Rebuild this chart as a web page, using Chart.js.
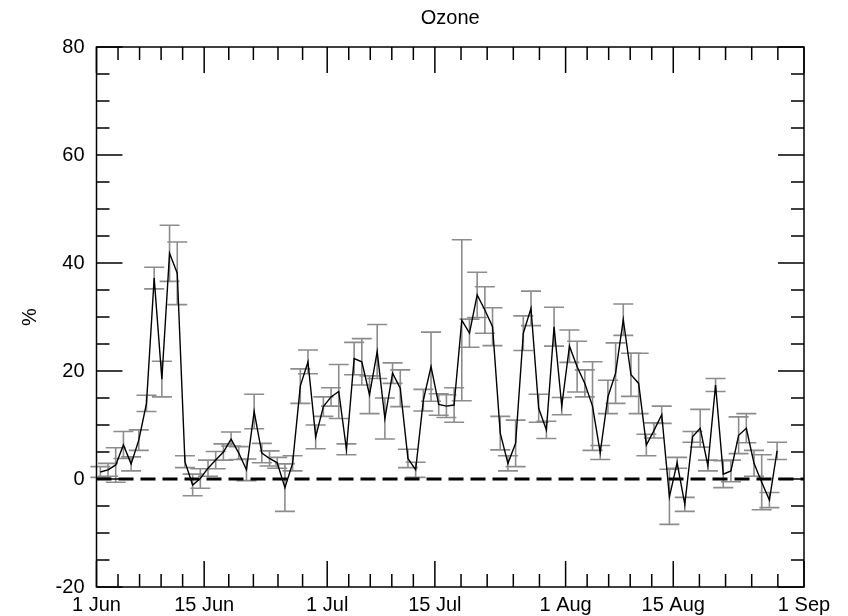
<!DOCTYPE html>
<html>
<head>
<meta charset="utf-8">
<title>Ozone</title>
<script src="https://cdn.jsdelivr.net/npm/chart.js@4/dist/chart.umd.min.js"></script>
<style>
  html, body { margin: 0; padding: 0; background: #fff; }
  #wrap { width: 848px; height: 616px; }
</style>
</head>
<body>
<div id="wrap"><canvas id="chart" width="848" height="616"></canvas></div>
<script>
// Daily ozone anomaly (%), 1 Jun .. 28 Aug, plotted at mid-day
const values = [
  1.3, 1.7, 2.6, 6.3, 2.8, 7.2, 14.0, 37.2, 18.5, 41.8,
  38.1, 3.2, -1.1, 0.1, 2.0, 3.5, 5.0, 7.4, 4.8, 1.7,
  12.5, 4.8, 3.8, 3.0, -1.6, 2.9, 17.2, 21.7, 7.8, 13.4,
  15.2, 16.2, 5.5, 22.3, 21.7, 15.6, 23.6, 11.2, 19.6, 16.8,
  3.8, 1.7, 14.6, 20.8, 13.8, 13.5, 13.7, 29.4, 27.0, 34.1,
  31.3, 28.2, 8.5, 2.9, 6.6, 27.0, 31.6, 13.1, 9.1, 28.2,
  13.5, 24.6, 20.8, 17.7, 13.5, 4.9, 15.2, 19.6, 29.5, 19.3,
  17.7, 6.3, 9.0, 11.9, -3.3, 3.0, -4.7, 7.8, 9.4, 2.5,
  17.4, 0.9, 1.5, 8.1, 9.4, 2.9, -0.6, -3.9, 5.2
];
// half-width of the error bar for each day
const errors = [
  1.0, 1.2, 3.2, 2.5, 1.3, 1.9, 1.5, 2.0, 3.3, 5.2,
  5.8, 1.1, 2.0, 1.8, 1.5, 1.6, 1.5, 1.3, 1.2, 2.0,
  3.2, 1.8, 1.4, 1.0, 4.4, 1.4, 3.2, 2.2, 2.2, 1.8,
  1.7, 5.0, 1.0, 3.0, 4.3, 3.5, 5.0, 3.8, 1.9, 3.4,
  1.7, 1.4, 2.0, 6.4, 2.0, 2.1, 3.2, 14.9, 2.6, 4.2,
  4.3, 3.5, 3.1, 1.4, 4.3, 3.2, 3.2, 2.6, 1.6, 3.6,
  1.6, 3.0, 4.7, 2.5, 8.2, 1.3, 3.1, 5.6, 2.9, 4.0,
  5.6, 2.0, 1.4, 1.6, 5.1, 1.0, 1.3, 1.0, 3.5, 1.0,
  1.2, 2.5, 2.0, 3.4, 2.7, 2.4, 5.1, 1.4, 1.6
];

// x axis: days since 1 Jun
const xTickDays = [0, 14, 30, 44, 61, 75, 92];
const xTickLabels = ['1 Jun', '15 Jun', '1 Jul', '15 Jul', '1 Aug', '15 Aug', '1 Sep'];
const yTickValues = [-20, 0, 20, 40, 60, 80];

const FONT = { family: 'Liberation Sans, Arial, Helvetica, sans-serif', size: 20 };

const points = values.map((v, i) => ({ x: i + 0.5, y: v }));

// gray error bars under the line
const errorBars = {
  id: 'errorBars',
  beforeDatasetsDraw(chart) {
    const { ctx, scales: { x, y } } = chart;
    ctx.save();
    ctx.strokeStyle = '#8c8c8c';
    ctx.lineWidth = 1.6;
    const cap = 10;
    points.forEach((p, i) => {
      const px = x.getPixelForValue(p.x);
      const top = y.getPixelForValue(p.y + errors[i]);
      const bot = y.getPixelForValue(p.y - errors[i]);
      ctx.beginPath();
      ctx.moveTo(px, top); ctx.lineTo(px, bot);
      ctx.moveTo(px - cap, top); ctx.lineTo(px + cap, top);
      ctx.moveTo(px - cap, bot); ctx.lineTo(px + cap, bot);
      ctx.stroke();
    });
    ctx.restore();
  }
};

// box frame with inward major/minor ticks on all four sides
const frame = {
  id: 'frame',
  afterDraw(chart) {
    const { ctx, chartArea: a, scales: { x, y } } = chart;
    const major = 26, minor = 13;
    ctx.save();
    ctx.strokeStyle = '#000';
    ctx.lineWidth = 1.5;
    ctx.strokeRect(a.left, a.top, a.right - a.left, a.bottom - a.top);
    ctx.beginPath();
    // x ticks
    xTickDays.forEach((d, k) => {
      const px = x.getPixelForValue(d);
      ctx.moveTo(px, a.bottom); ctx.lineTo(px, a.bottom - major);
      ctx.moveTo(px, a.top); ctx.lineTo(px, a.top + major);
      if (k < xTickDays.length - 1) {
        const next = xTickDays[k + 1];
        for (let m = 1; m < 5; m++) {
          const mx = x.getPixelForValue(d + (next - d) * m / 5);
          ctx.moveTo(mx, a.bottom); ctx.lineTo(mx, a.bottom - minor);
          ctx.moveTo(mx, a.top); ctx.lineTo(mx, a.top + minor);
        }
      }
    });
    // y ticks every 5, long ones every 20
    for (let v = -20; v <= 80; v += 5) {
      const py = y.getPixelForValue(v);
      const len = v % 20 === 0 ? major : minor;
      ctx.moveTo(a.left, py); ctx.lineTo(a.left + len, py);
      ctx.moveTo(a.right, py); ctx.lineTo(a.right - len, py);
    }
    ctx.stroke();
    ctx.restore();
  }
};

new Chart(document.getElementById('chart'), {
  type: 'line',
  data: {
    datasets: [
      {
        data: points,
        borderColor: '#000',
        borderWidth: 1.4,
        pointRadius: 0,
        tension: 0,
        order: 2
      },
      {
        data: [{ x: 0, y: 0 }, { x: 92, y: 0 }],
        borderColor: '#000',
        borderWidth: 3,
        borderDash: [15, 7],
        pointRadius: 0,
        order: 1
      }
    ]
  },
  options: {
    responsive: false,
    animation: false,
    events: [],
    layout: { padding: { left: 0, right: 44, top: 0, bottom: 0 } },
    plugins: {
      legend: { display: false },
      tooltip: { enabled: false },
      title: {
        display: true,
        text: 'Ozone',
        fullSize: false,
        color: '#000',
        font: { ...FONT, weight: 'normal' },
        padding: { top: 6, bottom: 17 }
      }
    },
    scales: {
      x: {
        type: 'linear',
        min: 0,
        max: 92,
        grid: { display: false, drawTicks: false },
        border: { display: false },
        afterBuildTicks: s => { s.ticks = xTickDays.map(v => ({ value: v })); },
        afterFit: s => { s.height = 29; },
        ticks: {
          color: '#000',
          font: FONT,
          padding: 6,
          maxRotation: 0,
          autoSkip: false,
          callback: v => xTickLabels[xTickDays.indexOf(v)]
        }
      },
      y: {
        min: -20,
        max: 80,
        grid: { display: false, drawTicks: false },
        border: { display: false },
        afterBuildTicks: s => { s.ticks = yTickValues.map(v => ({ value: v })); },
        afterFit: s => { s.width = 96.5; },
        title: {
          display: true,
          text: '%',
          color: '#000',
          font: FONT,
          padding: { top: 18, bottom: 0 }
        },
        ticks: { color: '#000', font: FONT, padding: 12 }
      }
    }
  },
  plugins: [errorBars, frame]
});
</script>
</body>
</html>
